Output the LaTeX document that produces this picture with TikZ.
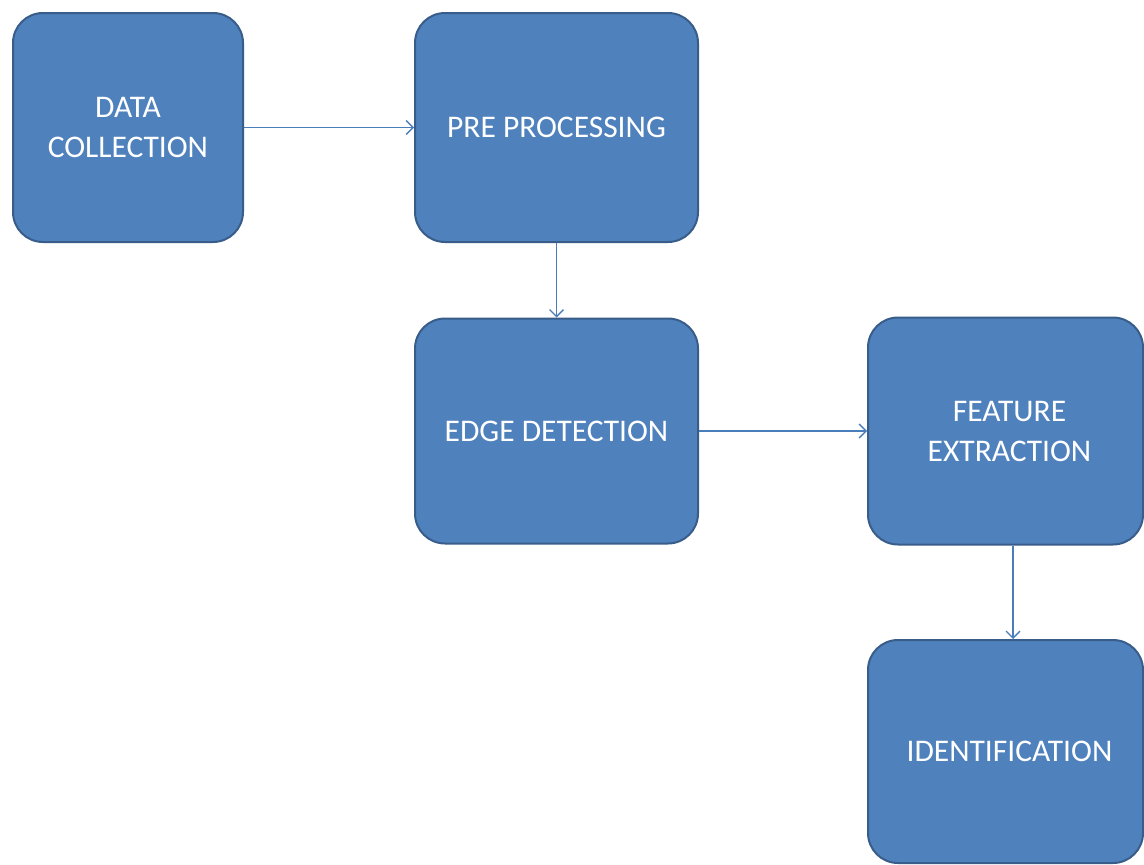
\documentclass[tikz,border=0pt]{standalone}
\usepackage{fontspec}
\setmainfont{Carlito}
\usetikzlibrary{arrows.meta}
\definecolor{boxfill}{HTML}{4F81BD}
\definecolor{boxline}{HTML}{385D8A}
\definecolor{arrcol}{HTML}{4A7EBB}
\begin{document}
\begin{tikzpicture}[x=1pt,y=-1pt,
  stage/.style={draw=boxline, fill=boxfill, line width=2pt, rounded corners=30pt,
    text=white, align=center, inner sep=0pt,
    font=\fontsize{31.5}{40}\selectfont},
  conn/.style={draw=arrcol, line width=1.5pt, -{Straight Barb[length=7pt,width=14pt,line width=1.3pt]}}]
\useasboundingbox (0,0) rectangle (1144,865);
\fill[white] (0,0) rectangle (1144,865);
\node[stage, minimum width=230pt, minimum height=229pt] (dc) at (128,127.5) {DATA\\COLLECTION};
\node[stage, minimum width=283pt, minimum height=229pt] (pp) at (556.5,127.5) {PRE PROCESSING};
\node[stage, minimum width=283pt, minimum height=225pt] (ed) at (556.5,431) {EDGE DETECTION};
\node[stage, minimum width=275pt, minimum height=227pt] (fe) at (1005.5,431) {\hspace*{8pt}FEATURE\\\hspace*{8pt}EXTRACTION};
\node[stage, minimum width=275pt, minimum height=223pt] (id) at (1005.5,751.5) {\hspace*{8pt}IDENTIFICATION};
\draw[conn] (dc.east) -- (pp.west);
\draw[conn] (pp.south) -- (ed.north);
\draw[conn] (ed.east) -- (fe.west);
\draw[conn] ([xshift=7.5pt]fe.south) -- ([xshift=7.5pt]id.north);
\end{tikzpicture}
\end{document}
